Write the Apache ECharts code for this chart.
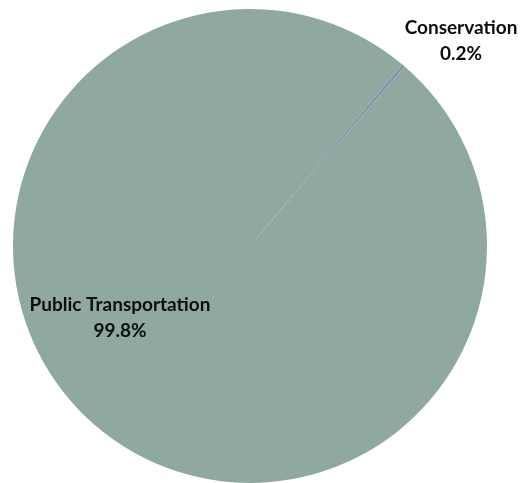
<!DOCTYPE html>
<html>
<head>
<meta charset="utf-8">
<script src="https://cdn.jsdelivr.net/npm/echarts@6/dist/echarts.min.js"></script>
<style>
  html, body { margin: 0; padding: 0; background: #ffffff; }
  #myChart { width: 525px; height: 483px; }
</style>
</head>
<body>
<div id="myChart"></div>
<script>
// 数据
var categories = ['Conservation', 'Public Transportation'];
var shares = [0.2, 99.8];
var sliceColors = ['#7a93a9', '#8fa8a0'];

// label spots (pixel), one per slice
var labelSpots = [[461, 41], [120, 318]];

var myChart = echarts.init(document.getElementById('myChart'));
myChart.setOption({
  animation: false,
  series: [{
    type: 'pie',
    center: [250, 246],
    radius: 237,
    startAngle: 50,
    clockwise: true,
    percentPrecision: 1,
    avoidLabelOverlap: false,
    data: categories.map(function (name, i) {
      return { name: name, value: shares[i], itemStyle: { color: sliceColors[i] } };
    }),
    itemStyle: { borderWidth: 0 },
    labelLine: { show: false },
    label: {
      show: true,
      position: 'inside',
      formatter: '{b}\n{d}%',
      fontFamily: 'Lato',
      fontWeight: 'bold',
      fontSize: 19,
      lineHeight: 26,
      color: '#0d0d0d',
      align: 'center',
      overflow: 'none'
    },
    labelLayout: function (params) {
      var p = labelSpots[params.dataIndex];
      return { x: p[0], y: p[1], align: 'center', verticalAlign: 'middle' };
    },
    emphasis: { disabled: true }
  }]
});
</script>
</body>
</html>
